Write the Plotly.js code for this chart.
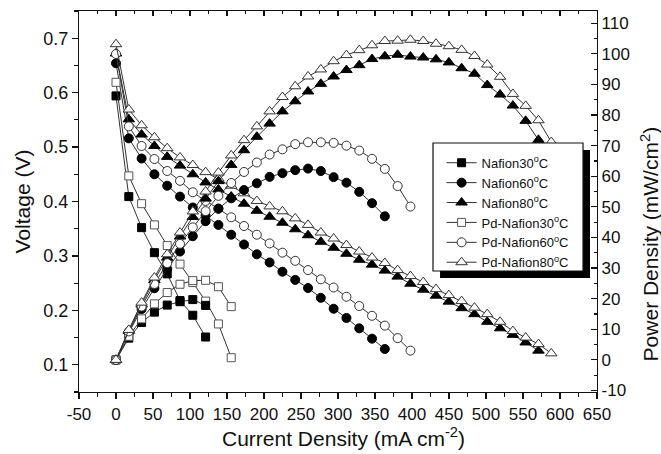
<!DOCTYPE html>
<html>
<head>
<meta charset="utf-8">
<script src="https://cdn.plot.ly/plotly-3.0.1.min.js"></script>
<style>html,body{margin:0;padding:0;background:#fff;}#chart{width:661px;height:454px;}</style>
</head>
<body>
<div id="chart"></div>
<script>
// Current density (mA cm^-2) at each measurement step
const current = [0,17.3,34.6,51.9,69.2,86.5,103.8,121.1,138.4,155.7,173,190.3,207.6,224.9,242.2,259.5,276.8,294.1,311.4,328.7,346,363.3,380.6,397.9,415.2,432.5,449.8,467.1,484.4,501.7,519,536.3,553.6,570.9,588.2];

// Voltage (V)
const vN30 = [0.594,0.409,0.352,0.306,0.267,0.218,0.191,0.151];
const vN60 = [0.654,0.516,0.479,0.450,0.429,0.409,0.389,0.374,0.357,0.339,0.321,0.303,0.288,0.271,0.256,0.241,0.223,0.203,0.186,0.167,0.148,0.129];
const vN80 = [0.672,0.551,0.523,0.502,0.482,0.466,0.450,0.435,0.422,0.409,0.396,0.383,0.372,0.361,0.349,0.338,0.326,0.315,0.304,0.293,0.284,0.273,0.262,0.249,0.238,0.227,0.216,0.204,0.193,0.179,0.167,0.155,0.141,0.126];
const vPd30 = [0.619,0.447,0.396,0.357,0.319,0.285,0.251,0.217,0.175,0.113];
const vPd60 = [0.671,0.538,0.502,0.478,0.456,0.438,0.417,0.401,0.387,0.371,0.355,0.339,0.323,0.306,0.291,0.274,0.257,0.242,0.225,0.208,0.190,0.172,0.149,0.126];
const vPd80 = [0.689,0.569,0.540,0.518,0.498,0.481,0.467,0.454,0.442,0.429,0.415,0.401,0.391,0.382,0.369,0.357,0.343,0.332,0.320,0.308,0.297,0.287,0.274,0.263,0.252,0.239,0.228,0.217,0.205,0.193,0.179,0.162,0.150,0.138,0.121];

// Power density (mW cm^-2)
const pN30 = [0,7.1,12.2,15.6,17.9,19.0,19.7,17.8];
const pN60 = [0,8.9,16.6,23.4,29.7,35.4,40.4,45.3,49.4,52.8,55.5,57.7,59.8,61.0,62.0,62.5,61.7,59.7,57.9,54.9,51.2,46.9];
const pN80 = [0,9.5,18.1,26.1,33.4,40.3,46.7,52.7,58.4,63.7,68.5,72.9,77.2,81.2,84.5,87.7,90.2,92.6,94.7,96.3,98.3,99.2,99.7,99.1,98.8,98.2,97.2,95.3,93.5,89.8,86.7,83.1,78.1,71.9];
const pPd30 = [0,7.7,13.4,18.3,22.0,24.7,25.9,26.0,23.9,17.4];
const pPd60 = [0,9.3,17.4,24.8,31.6,37.9,43.3,48.6,53.6,57.8,61.4,64.5,67.1,68.8,70.5,71.1,71.1,70.9,70.0,68.4,65.7,62.4,56.8,50.1];
const pPd80 = [0,9.8,18.7,26.9,34.5,41.6,48.5,55.0,61.2,66.8,71.8,76.3,81.2,85.9,89.4,92.6,94.9,97.6,99.6,101.2,102.8,104.2,104.3,104.6,104.2,103.3,102.5,101.3,99.3,96.5,92.5,86.9,83.0,78.3,71.2];

const seriesNames = ["Nafion30<sup>o</sup>C","Nafion60<sup>o</sup>C","Nafion80<sup>o</sup>C","Pd-Nafion30<sup>o</sup>C","Pd-Nafion60<sup>o</sup>C","Pd-Nafion80<sup>o</sup>C"];

const xTickVals = [-50,0,50,100,150,200,250,300,350,400,450,500,550,600,650];
const xTickText = ["-50","0","50","100","150","200","250","300","350","400","450","500","550","600","650"];
const pTickVals = [-10,0,10,20,30,40,50,60,70,80,90,100,110];
const pTickText = ["-10","0","10","20","30","40","50","60","70","80","90","100","110"];

const FONT = 'Arial, "Liberation Sans", sans-serif';
const INK = '#111';

const styles = [
  {symbol:'square', size:8, color:'#000', lc:'#000'},
  {symbol:'circle', size:9, color:'#000', lc:'#000'},
  {symbol:'triangle-up', size:10, color:'#000', lc:'#000'},
  {symbol:'square', size:8, color:'#fff', lc:'#555'},
  {symbol:'circle', size:9, color:'#fff', lc:'#333'},
  {symbol:'triangle-up', size:10, color:'#fff', lc:'#333'}
];
const vData = [vN30, vN60, vN80, vPd30, vPd60, vPd80];
const pData = [pN30, pN60, pN80, pPd30, pPd60, pPd80];

const traces = [];
for (let i = 0; i < 6; i++) {
  const s = styles[i];
  const mk = {symbol:s.symbol, size:s.size, color:s.color, line:{color:s.lc, width:1}};
  traces.push({
    x: current.slice(0, vData[i].length), y: vData[i], xaxis:'x', yaxis:'y',
    type:'scatter', mode:'lines+markers', name: seriesNames[i], legendgroup:'g'+i,
    line:{color:'#333', width:1}, marker: mk, showlegend:true, hoverinfo:'skip'
  });
  traces.push({
    x: current.slice(0, pData[i].length), y: pData[i], xaxis:'x', yaxis:'y2',
    type:'scatter', mode:'lines+markers', name: seriesNames[i], legendgroup:'g'+i,
    line:{color:'#333', width:1}, marker: mk, showlegend:false, hoverinfo:'skip'
  });
}
// carrier for the top (mirror) axis
traces.push({x:[null], y:[null], xaxis:'x2', yaxis:'y', type:'scatter', mode:'markers', showlegend:false, hoverinfo:'skip'});

const layout = {
  width:661, height:454,
  margin:{l:79, r:64, t:11, b:62, pad:0},
  paper_bgcolor:'#fff', plot_bgcolor:'#fff',
  font:{family:FONT, color:INK, size:17},
  showlegend:true,
  legend:{x:0.700, y:0.641, xanchor:'left', yanchor:'top', bgcolor:'rgba(0,0,0,0)', borderwidth:0,
          font:{family:FONT, size:13, color:INK}, tracegroupgap:0, traceorder:'normal'},
  xaxis:{range:[-50,650], tickmode:'array', tickvals:xTickVals, ticktext:xTickText,
         ticks:'outside', ticklen:6, tickwidth:1.2, tickcolor:INK,
         minor:{dtick:25, tick0:0, ticks:'outside', ticklen:3.5, tickwidth:1.2, tickcolor:INK, showgrid:false},
         showline:true, linewidth:1.2, linecolor:INK, showgrid:false, zeroline:false,
         tickfont:{size:17, family:FONT, color:INK}},
  xaxis2:{range:[-50,650], overlaying:'x', side:'top', anchor:'y', tickmode:'linear', tick0:0, dtick:50,
          ticks:'inside', ticklen:5, tickwidth:1.2, tickcolor:INK,
          minor:{dtick:25, tick0:0, ticks:'inside', ticklen:3, tickwidth:1.2, tickcolor:INK, showgrid:false},
          showticklabels:false, showline:true, linewidth:1.2, linecolor:INK, showgrid:false, zeroline:false},
  yaxis:{range:[0.05,0.75], tickmode:'linear', tick0:0.1, dtick:0.1,
         ticks:'outside', ticklen:6, tickwidth:1.2, tickcolor:INK,
         minor:{dtick:0.05, tick0:0.05, ticks:'outside', ticklen:3.5, tickwidth:1.2, tickcolor:INK, showgrid:false},
         showline:true, linewidth:1.2, linecolor:INK, showgrid:false, zeroline:false,
         tickfont:{size:18, family:FONT, color:INK},
         title:{text:'Voltage (V)', font:{size:21, family:FONT, color:INK}, standoff:6}},
  yaxis2:{range:[-10.5,114], overlaying:'y', side:'right', anchor:'x', tickmode:'array', tickvals:pTickVals, ticktext:pTickText,
          ticks:'inside', ticklen:6, tickwidth:1.2, tickcolor:INK,
          minor:{dtick:5, tick0:0, ticks:'inside', ticklen:3.5, tickwidth:1.2, tickcolor:INK, showgrid:false},
          showline:true, linewidth:1.2, linecolor:INK, showgrid:false, zeroline:false,
          tickfont:{size:17, family:FONT, color:INK}},
  annotations:[
    {text:'Power Density (mW/cm<sup>2</sup>)', xref:'paper', yref:'paper', x:1.1023, y:0.39,
     xanchor:'center', yanchor:'middle', textangle:-90, showarrow:false,
     font:{size:21, family:FONT, color:INK}},
    {text:'Current Density (mA cm<sup>-2</sup>)', xref:'paper', yref:'paper', x:0.51, y:-0.117,
     xanchor:'center', yanchor:'middle', showarrow:false,
     font:{size:21, family:FONT, color:INK}}
  ],
  shapes:[
    {type:'rect', xref:'paper', yref:'paper', x0:0.697, x1:0.9865, y0:0.2992, y1:0.6352, fillcolor:'#000', line:{width:0}, layer:'above'},
    {type:'rect', xref:'paper', yref:'paper', x0:0.6834, x1:0.973, y0:0.3176, y1:0.6535, fillcolor:'#fff', line:{width:1.2, color:INK}, layer:'above'}
  ]
};

Plotly.newPlot('chart', traces, layout, {staticPlot:true, displayModeBar:false});
</script>
</body>
</html>
